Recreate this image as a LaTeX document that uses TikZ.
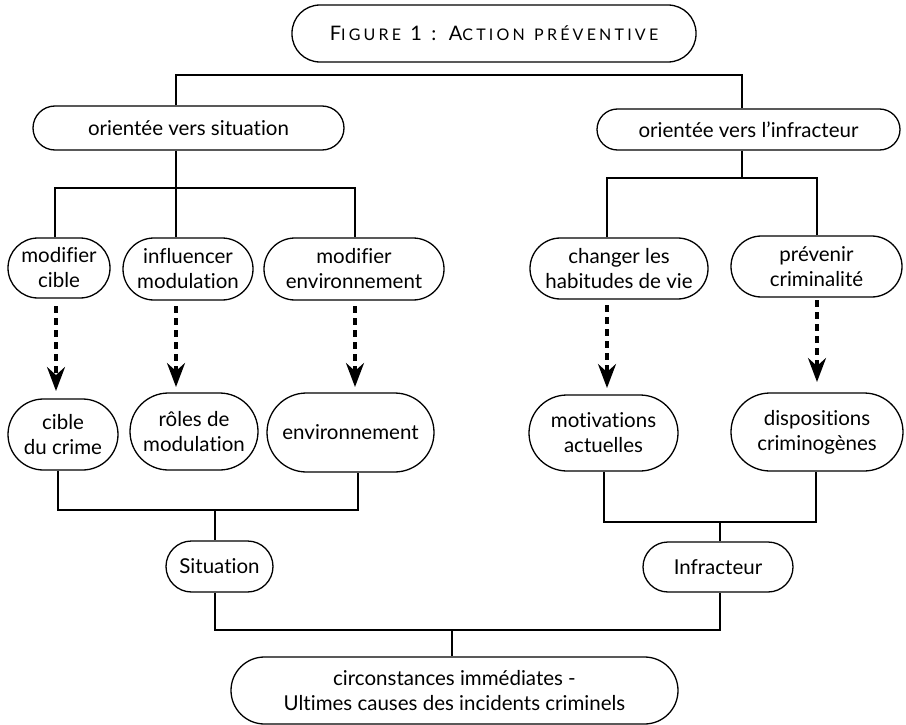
\documentclass[tikz,border=0pt]{standalone}
\usepackage{fontspec}
\setmainfont{Lato}[Ligatures=NoCommon]
\usetikzlibrary{arrows.meta}
\newcommand{\boxfont}{\fontsize{20.5}{25}\selectfont}
\newcommand{\bigc}[1]{{\fontsize{20}{22}\selectfont #1}}
\newcommand{\smc}[1]{{\fontsize{16}{22}\selectfont #1}}
\tikzset{
  box/.style n args={3}{draw, line width=1.3pt, align=center, inner sep=0pt,
    minimum width=#1pt, minimum height=#2pt, rounded corners=#3pt, font=\boxfont},
  conn/.style={line width=1.2pt},
  dasharrow/.style={line width=3.2pt, dash pattern=on 7pt off 5pt,
    -{Stealth[length=24pt,width=18pt,inset=8pt]}}
}
\begin{document}
\begin{tikzpicture}[x=1pt,y=-1pt]
\useasboundingbox (0,0) rectangle (906,725);
% nodes
\node[box={404}{57}{28}] (title) at (494,33.5) {\addfontfeatures{LetterSpace=20}\bigc{F}\smc{IGURE} \bigc{1} \bigc{:} \bigc{A}\smc{CTION} \smc{PRÉVENTIVE}};
\node[box={311}{44}{22}] (ovs) at (188.5,128) {orientée vers situation};
\node[box={303}{41}{20.5}] (ovi) at (748.5,129.5) {orientée vers l’infracteur};
\node[box={102}{60}{30}] (mc) at (59,268) {modifier\\cible};
\node[box={130}{62}{31}] (im) at (188,269) {influencer\\modulation};
\node[box={180}{62}{31}] (me) at (354,269) {modifier\\environnement};
\node[box={178}{61}{30.5}] (ch) at (619,268.5) {changer les\\habitudes de vie};
\node[box={171}{61}{30.5}] (pc) at (816.5,266.5) {prévenir\\criminalité};
\node[box={110}{71}{35.5}] (cc) at (63,434.5) {cible\\du crime};
\node[box={128}{77}{38.5}] (rm) at (194,431.5) {rôles de\\modulation};
\node[box={167}{79}{39.5}] (env) at (350.5,432.5) {environnement};
\node[box={149}{76}{38}] (ma) at (603.5,433) {motivations\\actuelles};
\node[box={172}{78}{39}] (dc) at (817,432) {dispositions\\criminogènes};
\node[box={107}{51}{25.5}] (sit) at (219.5,566.5) {Situation};
\node[box={150}{50}{25}] (inf) at (718,567) {Infracteur};
\node[box={447}{67}{33.5}] (cause) at (454.5,690.5) {circonstances immédiates -\\Ultimes causes des incidents criminels};
% junction coordinates
\coordinate (t1) at (176,75);
\coordinate (t2) at (742,75);
\coordinate (l0) at (176,188);
\coordinate (l1) at (55,188);
\coordinate (l3) at (355,188);
\coordinate (r0) at (742,178);
\coordinate (r1) at (607,178);
\coordinate (r2) at (817,178);
\coordinate (a1s) at (56,306);  \coordinate (a1e) at (56,391);
\coordinate (a2s) at (176,306); \coordinate (a2e) at (176,387);
\coordinate (a3s) at (355,306); \coordinate (a3e) at (355,387);
\coordinate (a4s) at (607,305); \coordinate (a4e) at (607,388);
\coordinate (a5s) at (817,300); \coordinate (a5e) at (817,382);
\coordinate (b1) at (58,510);
\coordinate (b3) at (358,510);
\coordinate (b0) at (215,510);
\coordinate (c1) at (604,522);
\coordinate (c2) at (816,522);
\coordinate (c0) at (720,522);
\coordinate (d1) at (215,630);
\coordinate (d2) at (720,630);
\coordinate (d0) at (452,630);
% connectors
\draw[conn] (ovs.north -| t1) -- (t1) -- (t2) -- (ovi.north -| t2);
\draw[conn] (ovs.south -| l0) -- (l0);
\draw[conn] (mc.north -| l1) -- (l1) -- (l3) -- (me.north -| l3);
\draw[conn] (l0) -- (im.north -| l0);
\draw[conn] (ovi.south -| r0) -- (r0);
\draw[conn] (ch.north -| r1) -- (r1) -- (r2) -- (pc.north -| r2);
\draw[dasharrow] (a1s) -- (a1e);
\draw[dasharrow] (a2s) -- (a2e);
\draw[dasharrow] (a3s) -- (a3e);
\draw[dasharrow] (a4s) -- (a4e);
\draw[dasharrow] (a5s) -- (a5e);
\draw[conn] (cc.south -| b1) -- (b1) -- (b3) -- (env.south -| b3);
\draw[conn] (b0) -- (sit.north -| b0);
\draw[conn] (ma.south -| c1) -- (c1) -- (c2) -- (dc.south -| c2);
\draw[conn] (c0) -- (inf.north -| c0);
\draw[conn] (sit.south -| d1) -- (d1) -- (d2) -- (inf.south -| d2);
\draw[conn] (d0) -- (cause.north -| d0);
\end{tikzpicture}
\end{document}
